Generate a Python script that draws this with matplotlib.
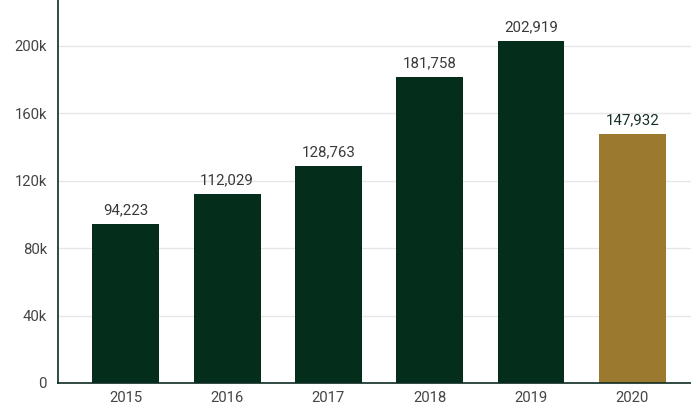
import matplotlib.pyplot as plt

years = ['2015', '2016', '2017', '2018', '2019', '2020']
values = [94223, 112029, 128763, 181758, 202919, 147932]
colors = ['#042d1c'] * 5 + ['#9b7a2f']
yticks = [0, 40000, 80000, 120000, 160000, 200000]
ytick_labels = ['0', '40k', '80k', '120k', '160k', '200k']

plt.rcParams['font.family'] = ['Roboto', 'DejaVu Sans']

fig = plt.figure(figsize=(6.91, 4.12), dpi=100)
ax = fig.add_axes([0.084, 0.0704, 0.916, 0.9296])

x = range(len(years))
bars = ax.bar(x, values, width=0.66, color=colors, zorder=2)
for i, b in enumerate(bars):
    ax.text(b.get_x() + b.get_width() / 2, values[i] + 4000, f'{values[i]:,}',
            ha='center', va='bottom', fontsize=10.8,
            color='#17302a' if i == 5 else '#3a3a3a')

ax.set_xlim(-0.67, 5.58)
ax.set_ylim(0, 227300)
ax.set_xticks(list(x))
ax.set_xticklabels(years)
ax.set_yticks(yticks)
ax.set_yticklabels(ytick_labels)
ax.tick_params(axis='both', length=0, labelsize=10.7, labelcolor='#444444')
ax.tick_params(axis='x', pad=6)
ax.tick_params(axis='y', pad=8)
ax.grid(axis='y', color='#e6e6e6', linewidth=1, zorder=0)
for s in ['top', 'right']:
    ax.spines[s].set_visible(False)
ax.spines['left'].set_color('#0d2b22')
ax.spines['bottom'].set_color('#0d2b22')
ax.spines['left'].set_linewidth(1.2)
ax.spines['bottom'].set_linewidth(1.2)

fig.savefig('out.png', dpi=100)
